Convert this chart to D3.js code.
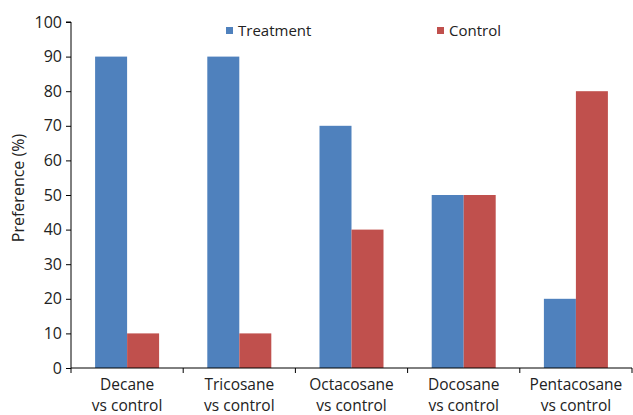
<!DOCTYPE html>
<html>
<head>
<meta charset="utf-8">
<script src="https://cdn.jsdelivr.net/npm/d3@7"></script>
<style>
  body { margin: 0; background: #fff; }
  text { font-family: "Open Sans", Lato, sans-serif; fill: #222; }
</style>
</head>
<body>
<div id="chart"></div>
<script>
// data
const categories = ["Decane vs control", "Tricosane vs control", "Octacosane vs control", "Docosane vs control", "Pentacosane vs control"];
const treatment = [90, 90, 70, 50, 20];
const control = [10, 10, 40, 50, 80];
const seriesNames = ["Treatment", "Control"];
const yTicks = [0, 10, 20, 30, 40, 50, 60, 70, 80, 90, 100];

const margin = {top: 22, right: 1, bottom: 47, left: 71},
    width = 633 - margin.left - margin.right,
    height = 415 - margin.top - margin.bottom;

const colors = ["#4F81BD", "#C0504D"];

let svg = d3.select("#chart")
  .append("svg")
    .attr("width", 633)
    .attr("height", 415)
  .append("g")
    .attr("transform", `translate(${margin.left},${margin.top})`);

let x = d3.scaleBand(categories, [0, width]).paddingInner(0).paddingOuter(0);
let y = d3.scaleLinear([0, 100], [height, 0]);

let xSub = d3.scaleBand(seriesNames, [0, 64]);
let offset = (x.bandwidth() - 64) / 2;

let rows = categories.map((c, i) => ({cat: c, values: [treatment[i], control[i]]}));

// bars
svg.append("g")
  .selectAll("g")
  .data(rows)
  .join("g")
    .attr("transform", d => `translate(${x(d.cat) + offset},0)`)
  .selectAll("rect")
  .data(d => d.values.map((v, j) => ({key: seriesNames[j], value: v, j: j})))
  .join("rect")
    .attr("x", d => xSub(d.key))
    .attr("y", d => y(d.value))
    .attr("width", xSub.bandwidth())
    .attr("height", d => height - y(d.value))
    .attr("fill", d => colors[d.j]);

// y axis
let yAxis = svg.append("g")
  .call(d3.axisLeft(y).tickValues(yTicks).tickSize(5).tickPadding(4));
yAxis.select(".domain").attr("stroke", "#000").attr("d", `M-5,${y(100)}H0V${height}`);
yAxis.selectAll("text").style("font-size", "16px");

// x axis with ticks at band boundaries
let xAxis = svg.append("g")
  .attr("transform", `translate(0,${height})`);
xAxis.append("line")
  .attr("x1", 0).attr("x2", width)
  .attr("stroke", "#000");
xAxis.selectAll(".bound")
  .data(categories.concat([null]))
  .join("line")
    .attr("class", "bound")
    .attr("x1", (d, i) => i < categories.length ? x(d) : width)
    .attr("x2", (d, i) => i < categories.length ? x(d) : width)
    .attr("y1", 0).attr("y2", 5)
    .attr("stroke", "#000");

// two-line category labels
let labels = xAxis.selectAll(".lbl")
  .data(categories)
  .join("g")
    .attr("class", "lbl")
    .attr("transform", d => `translate(${x(d) + x.bandwidth() / 2},0)`);
labels.append("text")
  .attr("text-anchor", "middle")
  .attr("y", 22)
  .style("font-size", "15.5px")
  .text(d => d.split(" vs ")[0]);
labels.append("text")
  .attr("text-anchor", "middle")
  .attr("y", 43)
  .style("font-size", "15.5px")
  .text(d => "vs " + d.split(" vs ")[1]);

// y label
svg.append("text")
  .attr("transform", "rotate(-90)")
  .attr("x", -height / 2 + 7)
  .attr("y", -47)
  .attr("text-anchor", "middle")
  .style("font-size", "16px")
  .text("Preference (%)");

// legend
const legendX = [155, 366];
seriesNames.forEach((s, i) => {
  svg.append("rect")
    .attr("x", legendX[i]).attr("y", 5)
    .attr("width", 7).attr("height", 7)
    .attr("fill", colors[i]);
  svg.append("text")
    .attr("x", legendX[i] + 12).attr("y", 14)
    .style("font-size", "15px")
    .text(s);
});
</script>
</body>
</html>
